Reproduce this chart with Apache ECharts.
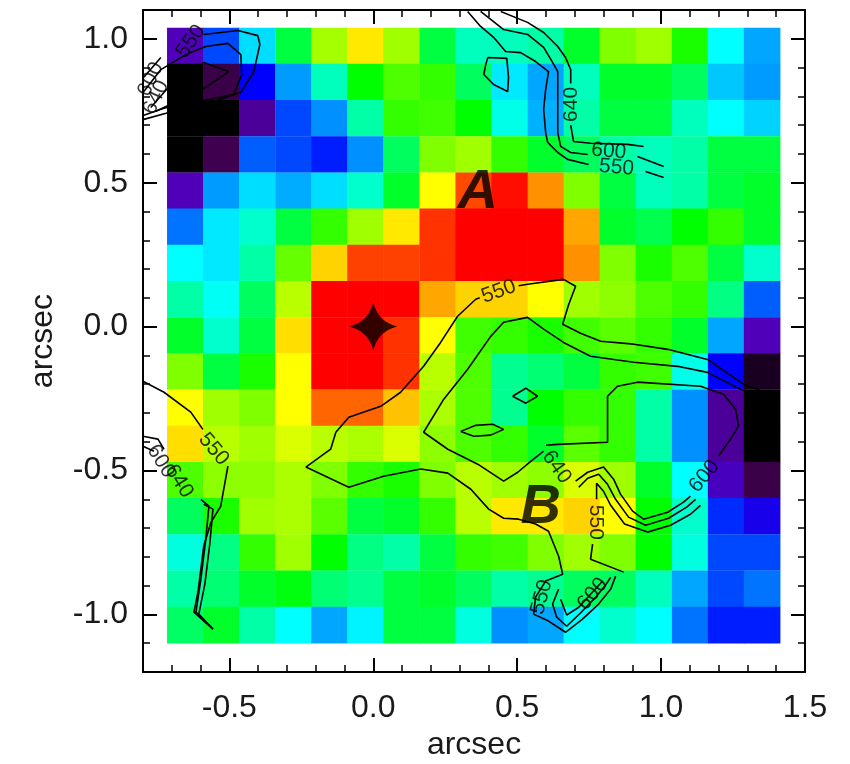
<!DOCTYPE html>
<html>
<head>
<meta charset="utf-8">
<script src="https://cdn.jsdelivr.net/npm/echarts@6/dist/echarts.min.js"></script>
<style>html,body{margin:0;padding:0;background:#fff}#chart{width:850px;height:764px}</style>
</head>
<body>
<div id="chart"></div>
<script>
// ---------------- DATA (arcsec) ----------------
const xCenters = [-0.654,-0.529,-0.404,-0.278,-0.153,-0.028,0.097,0.223,0.348,0.473,0.599,0.724,0.849,0.974,1.100,1.225,1.350];
const yCenters = [0.976,0.851,0.725,0.599,0.473,0.348,0.222,0.096,-0.030,-0.155,-0.281,-0.407,-0.533,-0.658,-0.784,-0.910,-1.036];
// map values, rows from top (y=0.976) to bottom (y=-1.036)
const row00 = [20,35,47,65.5,83,92,82.5,65.5,56,56,58,67,80,82.5,72,50,42];
const row01 = [0,9,30,41,56,70,76,74,63.5,48,42,56,67,67,63.5,45,41];
const row02 = [0,0,17,35,40,58,74,75,70,52,43,58,65.5,65.5,56,50,46];
const row03 = [0,10,36.5,35,32,40,63.5,80,82.5,74,67,63.5,58,56,58,65.5,65.5];
const row04 = [20,41,47,42.5,47,54.5,67,90,105,109,100,80,65.5,56,58,65.5,67];
const row05 = [38,48,54.5,65.5,74,82.5,92,106.5,110,110,110,98,67,64.5,70,74,67];
const row06 = [50,48,58,78,94,105.5,105.5,106.5,110,110,110,100,80,72,76,65.5,54.5];
const row07 = [58,51,63.5,84.5,110,110,110,98,94,94,90,82.5,81,76,74,61,36.5];
const row08 = [67,54.5,65.5,93,110,110,106.5,90,75,74,72,75,77,74,67,42,20];
const row09 = [80,65.5,72,90,110,110,106.5,84.5,76,60,62,65.5,74,75,52,30,4];
const row10 = [90,82.5,80,90,103,103,95.5,83.5,76,60,70,74,74,58,40,17,0];
const row11 = [93,84.5,82.5,87,84.5,83.5,87,81,76,74,67,77,74,58,40,17,0];
const row12 = [76,81,81,83.5,80,74,72,80,84.5,82.5,81,87,82.5,67,50,21,9];
const row13 = [63.5,72,82.5,83.5,77,65.5,67,74,84.5,92,92,94,90,70,54.5,33,27];
const row14 = [53,61,74,82.5,70,61,58,65.5,74,75,80,82.5,80,70,53,35,35];
const row15 = [58,62,67,69,62,60,65.5,67,63.5,58,60,63.5,63.5,56,42,35,38];
const row16 = [63,67,58,50,42,49,65.5,65.5,53,40,42,50,54.5,50,38,32,32];
const mapRows = [row00,row01,row02,row03,row04,row05,row06,row07,row08,row09,row10,row11,row12,row13,row14,row15,row16];

const xTickValues = [-0.5, 0.0, 0.5, 1.0, 1.5];
const yTickValues = [-1.0, -0.5, 0.0, 0.5, 1.0];

const GAP = ['-', '-'];
// contour lines (arcsec)
const c550TopLeft = [[-0.797,0.866],[-0.738,0.935],GAP,[-0.589,1.015],[-0.470,1.029],[-0.401,1.011],[-0.394,0.980],[-0.415,0.886],[-0.460,0.814],[-0.554,0.782],[-0.651,0.761],[-0.720,0.741],[-0.797,0.720]];
const c600TopLeft = [[-0.797,0.817],[-0.738,0.893],[-0.651,0.945],[-0.582,0.973],[-0.505,0.984],[-0.460,0.945],[-0.457,0.876],[-0.484,0.807],[-0.571,0.789],[-0.668,0.775],[-0.738,0.755],[-0.797,0.734]];
const c640TopLeft = [[-0.773,0.761],[-0.703,0.841],[-0.589,0.918],[-0.502,0.886],[-0.582,0.831],[-0.668,0.789],[-0.755,0.748]];
const c550TopMid = [[0.328,1.095],[0.373,1.043],[0.418,1.005],[0.460,0.956],[0.512,0.952],[0.564,0.921],[0.609,0.886],[0.599,0.824],[0.592,0.755],[0.599,0.674],[0.606,0.640],[0.641,0.605],[0.675,0.581],[0.748,0.563],GAP,[0.946,0.539],[1.009,0.518]];
const c600TopMid = [[0.373,1.095],[0.453,1.032],[0.536,1.015],[0.592,0.970],[0.623,0.918],[0.641,0.886],[0.641,0.789],[0.641,0.674],[0.651,0.626],[0.686,0.605],[0.745,0.598],GAP,[0.918,0.591],[1.009,0.556]];
const c640TopMid = [[0.443,1.095],[0.536,1.057],[0.592,1.022],[0.641,0.973],[0.668,0.935],[0.686,0.893],[0.686,0.845],GAP,[0.686,0.700],[0.696,0.643],[0.755,0.637],[0.884,0.633],[0.939,0.626]];
const cIslandTop = [[0.398,0.935],[0.464,0.932],[0.470,0.865],[0.467,0.817],[0.418,0.841],[0.384,0.876],[0.391,0.911],[0.398,0.935]];
const c550Main = [[1.408,-0.245],[1.286,-0.200],[1.161,-0.114],[1.023,-0.079],[0.905,-0.061],[0.790,-0.051],[0.720,-0.023],[0.658,0.008],[0.679,0.077],[0.703,0.140],[0.661,0.164],[0.536,0.147],[0.505,0.142],GAP,[0.370,0.100],[0.356,0.095],[0.293,0.036],[0.234,-0.055],[0.175,-0.138],[0.095,-0.228],[0.026,-0.277],[-0.085,-0.315],[-0.130,-0.367],[-0.148,-0.426],[-0.234,-0.488],[-0.085,-0.558],[0.036,-0.520],[0.165,-0.495],[0.259,-0.509],[0.339,-0.565],[0.401,-0.634],[0.453,-0.666],[0.505,-0.669],[0.564,-0.686],[0.609,-0.711],[0.644,-0.798],[0.658,-0.860],[0.599,-0.884],[0.564,-0.940],[0.557,-0.999],[0.609,-1.023],[0.668,-1.062],[0.727,-1.016],[0.783,-0.964],[0.825,-0.912],[0.842,-0.867]];
const c600Main = [[1.408,-0.259],[1.276,-0.218],[1.161,-0.159],[1.057,-0.138],[0.905,-0.124],[0.755,-0.103],[0.661,-0.055],[0.592,-0.009],[0.536,0.032],[0.453,0.015],[0.408,-0.034],[0.328,-0.148],[0.245,-0.252],[0.175,-0.367],[0.259,-0.426],[0.363,-0.478],[0.453,-0.537],[0.502,-0.506],[0.547,-0.468],[0.592,-0.433]];
const c640Main = [[0.600,-0.412],[0.641,-0.409],[0.814,-0.402],[0.814,-0.242],[0.849,-0.207],[0.918,-0.193],[1.137,-0.207],[1.217,-0.235],[1.259,-0.287],[1.269,-0.346],[1.241,-0.391],[1.200,-0.450],GAP,[1.102,-0.589],[1.078,-0.610],[1.023,-0.645],[0.939,-0.669],[0.901,-0.641],[0.859,-0.582],[0.835,-0.530],[0.800,-0.488],[0.745,-0.506],[0.703,-0.537]];
const cBundle1 = [[1.120,-0.600],[1.089,-0.627],[1.026,-0.666],[0.946,-0.690],[0.887,-0.662],[0.842,-0.600],[0.814,-0.548],[0.783,-0.513],[0.745,-0.527],[0.714,-0.558]];
const cBundle2 = [[1.137,-0.621],[1.102,-0.652],[1.033,-0.690],[0.953,-0.714],[0.873,-0.686],[0.825,-0.621],[0.800,-0.572],[0.776,-0.544],[0.776,-0.600],GAP,[0.762,-0.756],[0.755,-0.808],[0.870,-0.853]];
const cDiamond = [[0.484,-0.242],[0.530,-0.214],[0.571,-0.242],[0.530,-0.266],[0.484,-0.242]];
const cEllipse = [[0.304,-0.364],[0.356,-0.343],[0.415,-0.339],[0.453,-0.357],[0.408,-0.377],[0.349,-0.381],[0.304,-0.364]];
const cU600 = [[0.644,-0.912],[0.623,-0.964],[0.637,-1.009],[0.672,-1.041],[0.720,-0.995],[0.773,-0.940],[0.807,-0.898],[0.825,-0.871]];
const cU640 = [[0.651,-0.947],[0.672,-1.002],[0.714,-0.975],[0.762,-0.922],[0.797,-0.884]];
const c550LeftBot = [[-0.800,-0.190],[-0.727,-0.228],[-0.634,-0.297],[-0.592,-0.357],GAP,[-0.505,-0.485],[-0.530,-0.624],[-0.564,-0.680],[-0.589,-0.763],[-0.609,-0.922],[-0.623,-0.992],[-0.557,-1.051]];
const c600LeftBot = [[-0.800,-0.381],[-0.748,-0.391],[-0.727,-0.426],GAP,[-0.599,-0.600],[-0.571,-0.624],[-0.582,-0.739],[-0.599,-0.877],[-0.616,-0.992],[-0.557,-1.051]];
const c640LeftBot = [[-0.800,-0.416],[-0.762,-0.433],GAP,[-0.589,-0.617],[-0.557,-0.634],[-0.568,-0.756],[-0.585,-0.894],[-0.606,-0.999],[-0.557,-1.051]];
const contourLines = [c550TopLeft,c600TopLeft,c640TopLeft,c550TopMid,c600TopMid,c640TopMid,cIslandTop,c550Main,c600Main,c640Main,cBundle1,cBundle2,cDiamond,cEllipse,cU600,cU640,c550LeftBot,c600LeftBot,c640LeftBot];

const contourLabelText = ['550','600','640','640','600','550','550','640','600','550','550','600','550','600','640'];
const contourLabelPos = [[-0.634,0.991],[-0.773,0.859],[-0.755,0.796],[0.686,0.772],[0.818,0.609],[0.845,0.553],[0.436,0.122],[0.637,-0.488],[1.150,-0.520],[0.773,-0.680],[0.585,-0.940],[0.762,-0.929],[-0.554,-0.426],[-0.738,-0.468],[-0.675,-0.537]];
const contourLabelAngle = [55,65,65,90,-5,-5,20,-55,50,-90,75,50,-50,-58,-58];

const regionNames = ['A','B'];
const regionPos = [[0.363,0.466],[0.582,-0.628]];
const nucleus = [[0.0,0.0]];

// ---------------- CHART ----------------
const FONT = '"Liberation Sans", Arial, sans-serif';
const jet = ['#000000','#400050','#5000b8','#0000ff','#0090ff','#00ffff','#00ff90','#00ff00','#80ff00','#ffff00','#ff9000','#ff0000'];

const cells = [];
mapRows.forEach((row, r) => row.forEach((v, c) => cells.push([xCenters[c], yCenters[r], v])));
const cellW = Math.abs(xCenters[1] - xCenters[0]);
const cellH = Math.abs(yCenters[0] - yCenters[1]);

function mkX(pos, major, withLabel) {
  return {
    type: 'value', min: -0.8, max: 1.5, interval: 0.1, position: pos, z: 10,
    axisLine: { show: major, onZero: false, lineStyle: { color: '#000', width: 2 } },
    axisTick: major
      ? { show: true, inside: true, length: 14, lineStyle: { color: '#000', width: 2 }, customValues: xTickValues }
      : { show: true, inside: true, length: 7, lineStyle: { color: '#000', width: 1.5 } },
    axisLabel: withLabel
      ? { show: true, customValues: xTickValues, formatter: v => Number(v).toFixed(1), fontSize: 32, fontFamily: FONT, color: '#1a1a1a', margin: 20 }
      : { show: false },
    splitLine: { show: false },
    name: withLabel ? 'arcsec' : '', nameLocation: 'middle', nameGap: 54,
    nameTextStyle: { fontSize: 32, fontFamily: FONT, color: '#1a1a1a' }
  };
}
function mkY(pos, major, withLabel) {
  return {
    type: 'value', min: -1.2, max: 1.1, interval: 0.1, position: pos, z: 10,
    axisLine: { show: major, onZero: false, lineStyle: { color: '#000', width: 2 } },
    axisTick: major
      ? { show: true, inside: true, length: 14, lineStyle: { color: '#000', width: 2 }, customValues: yTickValues }
      : { show: true, inside: true, length: 7, lineStyle: { color: '#000', width: 1.5 } },
    axisLabel: withLabel
      ? { show: true, customValues: yTickValues, formatter: v => Number(v).toFixed(1), fontSize: 32, fontFamily: FONT, color: '#1a1a1a', margin: 15 }
      : { show: false },
    splitLine: { show: false },
    name: withLabel ? 'arcsec' : '', nameLocation: 'middle', nameGap: 84, nameRotate: 90,
    nameTextStyle: { fontSize: 32, fontFamily: FONT, color: '#1a1a1a' }
  };
}

const series = [];
series.push({
  type: 'custom', name: 'map', data: cells, dimensions: ['x', 'y', 'v'],
  encode: { x: 0, y: 1 }, z: 1, silent: true,
  renderItem: function (params, api) {
    const x = api.value(0), y = api.value(1);
    const p0 = api.coord([x - cellW / 2, y + cellH / 2]);
    const p1 = api.coord([x + cellW / 2, y - cellH / 2]);
    return {
      type: 'rect',
      shape: { x: p0[0], y: p0[1], width: p1[0] - p0[0] + 0.6, height: p1[1] - p0[1] + 0.6 },
      style: { fill: api.visual('color') }
    };
  }
});
contourLines.forEach(line => series.push({
  type: 'line', data: line, symbol: 'none', silent: true, z: 3, clip: false,
  connectNulls: false, lineStyle: { color: '#000', width: 1.6 }
}));
series.push({
  type: 'scatter', z: 4, silent: true, clip: false, symbolSize: 1,
  itemStyle: { color: 'rgba(0,0,0,0)' },
  data: contourLabelPos.map((p, i) => ({
    value: p,
    label: { show: true, position: 'inside', formatter: contourLabelText[i], rotate: contourLabelAngle[i],
      fontSize: 21, fontFamily: FONT, color: '#000' }
  }))
});
series.push({
  type: 'scatter', z: 5, silent: true, clip: false, symbolSize: 1,
  itemStyle: { color: 'rgba(0,0,0,0)' },
  data: regionPos.map((p, i) => ({
    value: p,
    label: { show: true, position: 'inside', formatter: regionNames[i], fontSize: 56, fontWeight: 'bold',
      fontStyle: 'italic', fontFamily: FONT, color: '#000' }
  }))
});
series.push({
  type: 'scatter', z: 5, silent: true, data: nucleus,
  symbol: 'path://M50,0 Q60,40 100,50 Q60,60 50,100 Q40,60 0,50 Q40,40 50,0 Z',
  symbolSize: [48, 48], itemStyle: { color: '#000' }
});

const chart = echarts.init(document.getElementById('chart'), null, { renderer: 'canvas' });
chart.setOption({
  animation: false,
  backgroundColor: '#ffffff',
  grid: { left: 143, top: 10, width: 662, height: 662, containLabel: false, outerBoundsMode: 'none' },
  xAxis: [mkX('bottom', true, true), mkX('bottom', false, false), mkX('top', true, false), mkX('top', false, false)],
  yAxis: [mkY('left', true, true), mkY('left', false, false), mkY('right', true, false), mkY('right', false, false)],
  visualMap: { type: 'continuous', show: false, min: 0, max: 110, dimension: 2, seriesIndex: 0, inRange: { color: jet } },
  series: series
});
</script>
</body>
</html>
